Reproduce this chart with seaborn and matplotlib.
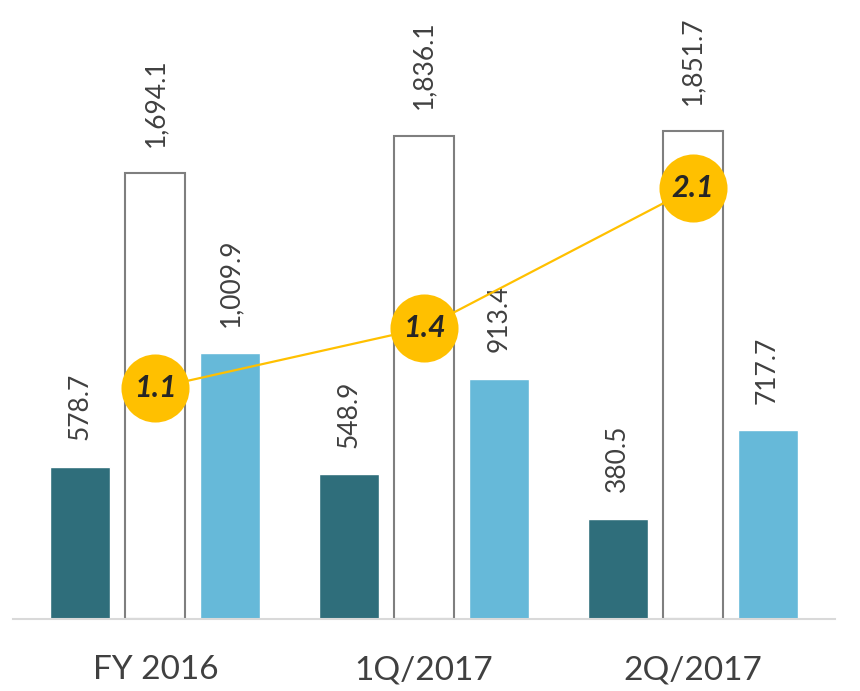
import matplotlib.pyplot as plt
import numpy as np
import pandas as pd
import seaborn as sns

periods = ['FY 2016', '1Q/2017', '2Q/2017']
series_names = ['A', 'B', 'C']
values_a = [578.7, 548.9, 380.5]
values_b = [1694.1, 1836.1, 1851.7]
values_c = [1009.9, 913.4, 717.7]
ratio = [1.1, 1.4, 2.1]

colors = ['#2F6E7B', '#FFFFFF', '#66B9D9']
text_color = '#404040'

# long format table for seaborn
df = pd.DataFrame({
    'period': periods * 3,
    'series': np.repeat(series_names, len(periods)),
    'value': values_a + values_b + values_c,
})

sns.set_style('white')
plt.rcParams['font.family'] = ['Lato', 'DejaVu Sans']

fig = plt.figure(figsize=(8.6, 6.91), dpi=100)
ax = fig.add_axes([13 / 860, 72 / 691, 822 / 860, 619 / 691])

sns.barplot(data=df, x='period', y='value', hue='series', palette=colors,
            width=0.837, gap=0.2, saturation=1, legend=False, ax=ax)

# white bars get a gray outline
for bar in ax.containers[1]:
    bar.set_edgecolor('#7F7F7F')
    bar.set_linewidth(1.5)

for cont in ax.containers:
    ax.bar_label(cont, labels=[f'{v:,.1f}' for v in cont.datavalues],
                 rotation=90, padding=19, fontsize=19, color=text_color)

ax.set_xlim(-0.53, 2.53)
ax.set_ylim(0, 2351)
ax.set_xlabel('')
ax.set_ylabel('')
ax.set_yticks([])
for s in ['top', 'left', 'right']:
    ax.spines[s].set_visible(False)
ax.spines['bottom'].set_color('#D9D9D9')
ax.spines['bottom'].set_linewidth(1.5)
ax.tick_params(axis='x', length=0, labelsize=24, pad=26, labelcolor=text_color)

# ratio line on a secondary axis
ax2 = ax.twinx()
xpos = np.arange(len(periods))
sns.lineplot(x=xpos, y=ratio, color='#FFC000', linewidth=1.6, marker='o',
             markersize=49, markeredgewidth=0, ax=ax2)
for x, r in zip(xpos, ratio):
    ax2.text(x, r, f'{r:.1f}', ha='center', va='center', fontsize=22,
             fontweight='bold', fontstyle='italic', color='#262626')
ax2.set_xlim(-0.53, 2.53)
ax2.set_ylim(-0.055, 3.04)
ax2.set_yticks([])
ax2.axis('off')

fig.savefig('out.png', dpi=100)
